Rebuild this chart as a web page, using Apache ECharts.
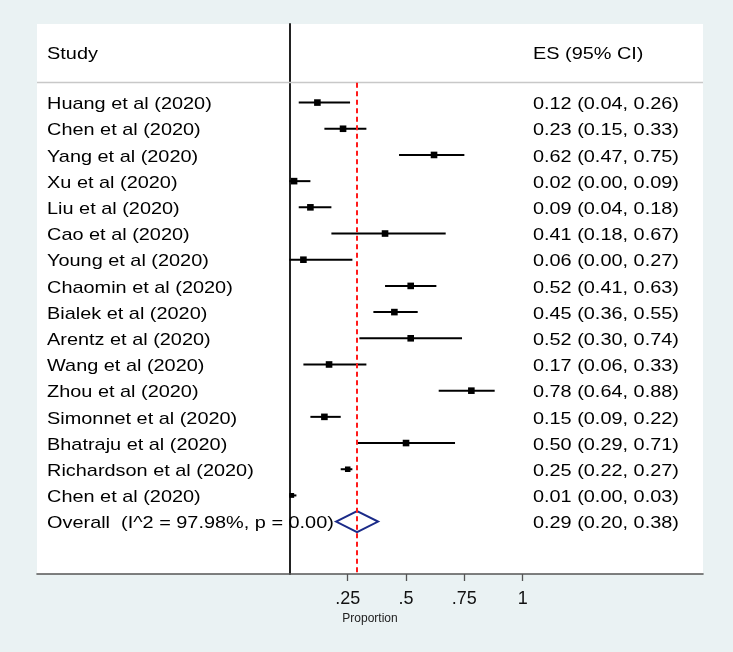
<!DOCTYPE html>
<html>
<head>
<meta charset="utf-8">
<script src="https://cdn.jsdelivr.net/npm/echarts@6/dist/echarts.min.js"></script>
<style>
  html, body { margin: 0; padding: 0; background: #eaf2f3; }
  #chart { width: 733px; height: 652px; }
</style>
</head>
<body>
<div id="chart"></div>
<script>
// study rows, top to bottom
const studies = [
  "Huang et al (2020)", "Chen et al (2020)", "Yang et al (2020)", "Xu et al (2020)",
  "Liu et al (2020)", "Cao et al (2020)", "Young et al (2020)", "Chaomin et al (2020)",
  "Bialek et al (2020)", "Arentz et al (2020)", "Wang et al (2020)", "Zhou et al (2020)",
  "Simonnet et al (2020)", "Bhatraju et al (2020)", "Richardson et al (2020)", "Chen et al (2020)"
];
const es = [0.12, 0.23, 0.62, 0.02, 0.09, 0.41, 0.06, 0.52, 0.45, 0.52, 0.17, 0.78, 0.15, 0.50, 0.25, 0.01];
const ciLow = [0.04, 0.15, 0.47, 0.00, 0.04, 0.18, 0.00, 0.41, 0.36, 0.30, 0.06, 0.64, 0.09, 0.29, 0.22, 0.00];
const ciHigh = [0.26, 0.33, 0.75, 0.09, 0.18, 0.67, 0.27, 0.63, 0.55, 0.74, 0.33, 0.88, 0.22, 0.71, 0.27, 0.03];
// study weights (%)
const weights = [6.3, 6.3, 6.3, 6.3, 6.3, 6.3, 6.3, 6.3, 6.3, 6.3, 6.3, 6.3, 6.3, 6.3, 4.4, 3.4];

const overallLabel = "Overall  (I^2 = 97.98%, p = 0.00)";
const overallEs = 0.29;
const overallLow = 0.20;
const overallHigh = 0.38;

const headerLeft = "Study";
const headerRight = "ES (95% CI)";

const xTicks = [0.25, 0.5, 0.75, 1];
const xTickLabels = [".25", ".5", ".75", "1"];
const xTitle = "Proportion";

// layout constants (axis units)
const STUDY_X = -1.039;
const ES_X = 1.044;
const HEADER_ROW = -1.93;
const RULE_ROW = -0.76;
const OVERALL_ROW = studies.length;

const FONT = '17px "Liberation Sans", Arial, sans-serif';
const STRETCH = 1.17;

const fmt = (v) => v.toFixed(2);
const esText = es.map((v, i) => `${fmt(v)} (${fmt(ciLow[i])}, ${fmt(ciHigh[i])})`);
const overallText = `${fmt(overallEs)} (${fmt(overallLow)}, ${fmt(overallHigh)})`;

const leftTexts = [headerLeft, ...studies, overallLabel];
const rightTexts = [headerRight, ...esText, overallText];
const textRows = [HEADER_ROW, ...studies.map((s, i) => i), OVERALL_ROW];

function textEl(x, y, text) {
  return {
    type: "text",
    x: x,
    y: y,
    scaleX: STRETCH,
    style: {
      text: text,
      font: FONT,
      fill: "#000",
      align: "left",
      verticalAlign: "middle",
      textAlign: "left",
      textVerticalAlign: "middle",
    },
  };
}

const chart = echarts.init(document.getElementById("chart"), null, { renderer: "canvas" });

const option = {
  backgroundColor: "#eaf2f3",
  animation: false,
  grid: {
    left: 37,
    right: 30,
    top: 24,
    bottom: 78,
    show: true,
    backgroundColor: "#ffffff",
    borderWidth: 0,
  },
  xAxis: {
    type: "value",
    min: -1.082,
    max: 1.773,
    name: xTitle,
    nameLocation: "middle",
    nameGap: 36,
    nameTextStyle: { fontSize: 12, color: "#222", fontFamily: "Liberation Sans, Arial, sans-serif" },
    axisLine: { show: true, onZero: false, lineStyle: { color: "#555", width: 1.6 } },
    axisTick: { show: true, customValues: xTicks, length: 7, lineStyle: { color: "#555", width: 1.3 } },
    axisLabel: {
      customValues: xTicks,
      margin: 16,
      fontSize: 18,
      color: "#111",
      fontFamily: "Liberation Sans, Arial, sans-serif",
      formatter: (v) => {
        const k = xTicks.findIndex((t) => Math.abs(t - v) < 1e-9);
        return k >= 0 ? xTickLabels[k] : "";
      },
    },
    splitLine: { show: false },
  },
  yAxis: {
    type: "value",
    inverse: true,
    min: -3,
    max: 18,
    axisLine: { show: true, onZero: true, lineStyle: { color: "#222", width: 2 } },
    axisTick: { show: false },
    axisLabel: { show: false },
    splitLine: { show: false },
  },
  series: [
    {
      // header rule and overall reference line
      type: "line",
      data: [],
      silent: true,
      markLine: {
        symbol: "none",
        silent: true,
        label: { show: false },
        data: [
          { yAxis: RULE_ROW, lineStyle: { color: "#c8c8c8", width: 1.4, type: "solid" } },
          [
            { coord: [overallEs, RULE_ROW] },
            { coord: [overallEs, 18], lineStyle: { color: "#ff1a1a", width: 2, type: [5, 3.5] } },
          ],
        ],
      },
    },
    {
      // study CIs and boxes
      type: "custom",
      encode: { x: 0, y: 1 },
      data: studies.map((s, i) => [es[i], i, ciLow[i], ciHigh[i], weights[i]]),
      renderItem: (params, api) => {
        const row = api.value(1);
        const c = api.coord([api.value(0), row]);
        const a = api.coord([api.value(2), row]);
        const b = api.coord([api.value(3), row]);
        const s = 6.6 * Math.sqrt(api.value(4) / 6.3);
        return {
          type: "group",
          children: [
            { type: "line", shape: { x1: a[0], y1: a[1], x2: b[0], y2: b[1] }, style: { stroke: "#000", lineWidth: 2 } },
            { type: "rect", shape: { x: c[0] - s / 2, y: c[1] - s / 2, width: s, height: s }, style: { fill: "#000" } },
          ],
        };
      },
      z: 3,
    },
    {
      // pooled estimate diamond
      type: "custom",
      encode: { x: 0, y: 1 },
      data: [[overallEs, OVERALL_ROW, overallLow, overallHigh]],
      renderItem: (params, api) => {
        const row = api.value(1);
        const c = api.coord([api.value(0), row]);
        const a = api.coord([api.value(2), row]);
        const b = api.coord([api.value(3), row]);
        const h = 10.5;
        return {
          type: "polygon",
          shape: { points: [[a[0], c[1]], [c[0], c[1] - h], [b[0], c[1]], [c[0], c[1] + h]] },
          style: { fill: "none", stroke: "#1a2a88", lineWidth: 2 },
        };
      },
      z: 3,
    },
    {
      // text columns
      type: "custom",
      encode: { x: 0, y: 1 },
      data: textRows.map((r, k) => [STUDY_X, r, k]),
      renderItem: (params, api) => {
        const row = api.value(1);
        const k = api.value(2);
        const y = api.coord([0, row])[1] + 2;
        const xl = api.coord([STUDY_X, row])[0];
        const xr = api.coord([ES_X, row])[0];
        return {
          type: "group",
          children: [textEl(xl, y, leftTexts[k]), textEl(xr, y, rightTexts[k])],
        };
      },
      z: 1,
    },
  ],
};

chart.setOption(option);
</script>
</body>
</html>
